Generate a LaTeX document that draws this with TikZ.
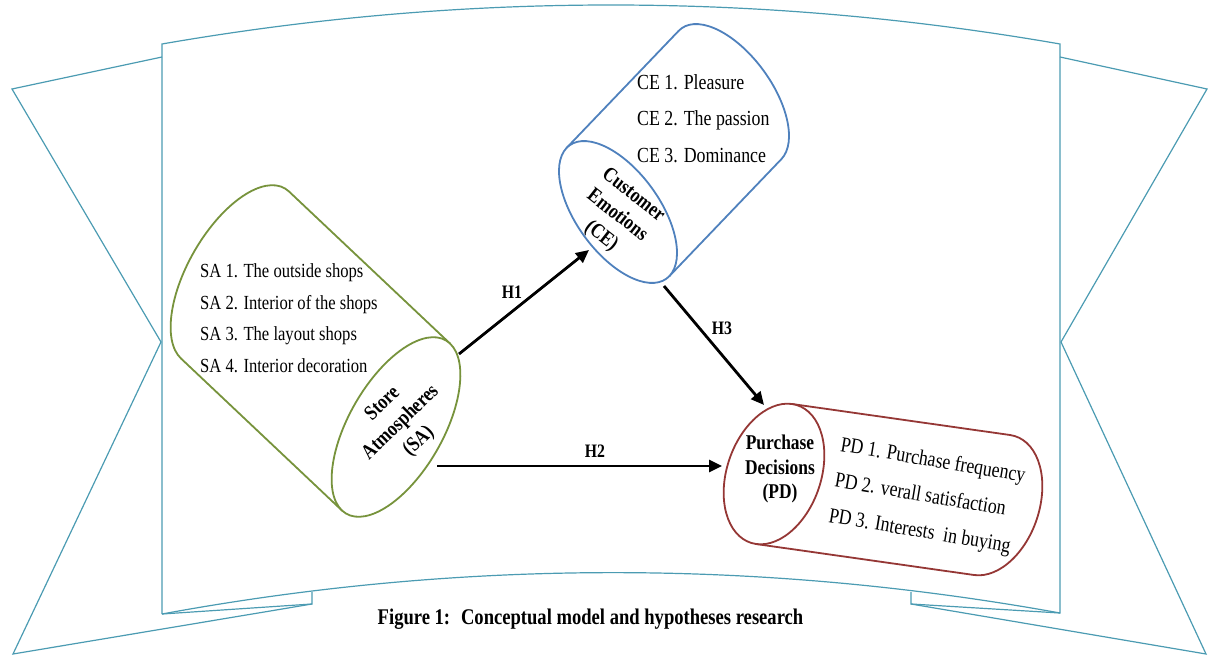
\documentclass[tikz,border=0pt]{standalone}
\usepackage{fontspec}
\setmainfont{Liberation Serif}[FakeStretch=0.83]
\usetikzlibrary{calc,arrows.meta}
\definecolor{ribbon}{RGB}{75,155,178}
\definecolor{sagreen}{RGB}{119,147,60}
\definecolor{ceblue}{RGB}{79,129,189}
\definecolor{pdred}{RGB}{149,55,53}
\tikzset{
  rib/.style={draw=ribbon, line width=1.2pt, line join=miter},
  cylline/.style={fill=white, line width=1.8pt, line join=round},
  arr/.style={line width=2.8pt, -{Triangle[length=13pt,width=12pt]}},
  itemtxt/.style={inner sep=0pt, align=left},
  lbltxt/.style={inner sep=0pt, align=center, font=\bfseries\fontsize{21}{26}\selectfont},
  htxt/.style={inner sep=0pt, font=\bfseries\fontsize{19}{19}\selectfont}
}
\newcommand{\drawcyl}[6]{%
  \coordinate (#1b) at #3;
  \coordinate (#1f) at #4;
  \draw[cylline,draw=#2] ($(#1f)+#6$) -- ($(#1b)+#6$)
    .. controls ($(#1b)+#6-0.5523*#5$) and ($(#1b)-#5+0.5523*#6$) .. ($(#1b)-#5$)
    .. controls ($(#1b)-#5-0.5523*#6$) and ($(#1b)-#6-0.5523*#5$) .. ($(#1b)-#6$)
    -- ($(#1f)-#6$) -- cycle;
  \draw[cylline,draw=#2] ($(#1f)+#5$)
    .. controls ($(#1f)+#5+0.5523*#6$) and ($(#1f)+#6+0.5523*#5$) .. ($(#1f)+#6$)
    .. controls ($(#1f)+#6-0.5523*#5$) and ($(#1f)-#5+0.5523*#6$) .. ($(#1f)-#5$)
    .. controls ($(#1f)-#5-0.5523*#6$) and ($(#1f)-#6-0.5523*#5$) .. ($(#1f)-#6$)
    .. controls ($(#1f)-#6+0.5523*#5$) and ($(#1f)+#5-0.5523*#6$) .. cycle;
}
\begin{document}
\begin{tikzpicture}[x=1pt,y=-1pt]
\useasboundingbox (0,0) rectangle (1208,655);
% ribbon ears
\draw[rib] (162,57) -- (12,89) -- (161,342) -- (13,654) -- (312,604) -- (312,592);
\draw[rib] (162,614) -- (312,604);
\draw[rib] (1060,57) -- (1207,89) -- (1061,342) -- (1206,654) -- (911,604) -- (911,592);
\draw[rib] (1060,613) -- (911,604);
% ribbon main panel
\draw[rib] (162,614) -- (162,44) .. controls (461,-8) and (761,-8) .. (1060,44)
  -- (1060,613) .. controls (761,559) and (461,559) .. (162,614);
% cylinders
\drawcyl{sa}{sagreen}{(235,275)}{(396,427)}{(35,33)}{(54,-83.5)}
\drawcyl{ce}{ceblue}{(730,95)}{(618,212)}{(-28.8,30.6)}{(-51.5,-64)}
\drawcyl{pd}{pdred}{(992,505)}{(774,474)}{(-47,-6.7)}{(18,-70)}
% arrow end points
\coordinate (h1s) at (459,354);
\coordinate (h1e) at (589,250);
\coordinate (h2s) at (437,466);
\coordinate (h2e) at (722,466);
\coordinate (h3s) at (664,286);
\coordinate (h3e) at (764,405);
\draw[arr] (h1s) -- (h1e);
\draw[arr] (h2s) -- (h2e);
\draw[arr] (h3s) -- (h3e);
% texts
\node[itemtxt, anchor=west, font=\fontsize{20}{31.5}\selectfont] (salist) at (200,318)
  {SA 1. The outside shops\\SA 2. Interior of the shops\\SA 3. The layout shops\\SA 4. Interior decoration};
\node[lbltxt, rotate=44] (salbl) at (401,423) {Store\\Atmospheres\\(SA)};
\node[itemtxt, anchor=west, font=\fontsize{21.5}{36.5}\selectfont] (celist) at (637,118.5)
  {CE 1. Pleasure\\CE 2. The passion\\CE 3. Dominance};
\node[lbltxt, rotate=-38] (celbl) at (617,216) {Customer\\Emotions\\(CE)};
\node[lbltxt, font=\bfseries\fontsize{21}{24.5}\selectfont] (pdlbl) at (780,469) {Purchase\\Decisions\\(PD)};
\node[itemtxt, rotate=-9.5, font=\fontsize{21.5}{36}\selectfont] (pdlist) at (927,497)
  {PD 1. Purchase frequency\\PD 2. verall satisfaction\\PD 3. Interests~ in buying};
\node[htxt] (h1) at (512,292) {H1};
\node[htxt] (h2) at (595,451) {H2};
\node[htxt] (h3) at (722,328) {H3};
\node[inner sep=0pt, font=\bfseries\fontsize{22.4}{22.4}\selectfont] (title) at (590.5,619)
  {Figure 1:~ Conceptual model and hypotheses research};
\end{tikzpicture}
\end{document}
